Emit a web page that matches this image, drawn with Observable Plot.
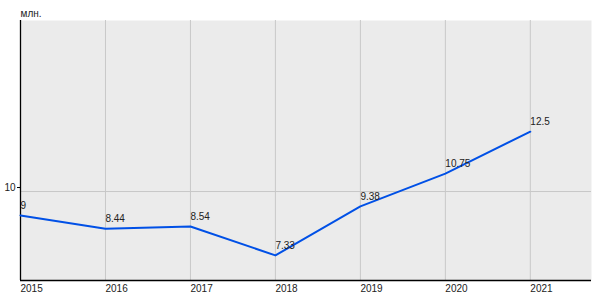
<!DOCTYPE html>
<html><head><meta charset="utf-8">
<script src="https://cdn.jsdelivr.net/npm/d3@7"></script>
<script src="https://cdn.jsdelivr.net/npm/@observablehq/plot@0.6"></script>
<style>body{margin:0;background:#fff;font-family:"Liberation Sans",Arial,sans-serif;}</style>
</head><body><div id="chart"></div>
<script>
const years = [2015, 2016, 2017, 2018, 2019, 2020, 2021];
const values = [9, 8.44, 8.54, 7.33, 9.38, 10.75, 12.5];
const labels = ["9", "8.44", "8.54", "7.33", "9.38", "10.75", "12.5"];
const yTicks = [10];
const unit = "млн.";
const data = years.map((y, i) => ({year: y, value: values[i], label: labels[i]}));

const chart = Plot.plot({
  width: 600, height: 300,
  marginLeft: 20, marginRight: 9, marginTop: 20, marginBottom: 20,
  style: {fontFamily: "Liberation Sans, Arial, sans-serif", fontSize: "10px", color: "#222"},
  x: {domain: [2015, 2021.72], label: null},
  y: {domain: [6.28, 17.15], label: null},
  marks: [
    Plot.frame({fill: "#ebebeb", stroke: null}),
    Plot.ruleX(years, {stroke: "#c8c8c8", strokeWidth: 1}),
    Plot.ruleY(yTicks, {stroke: "#c8c8c8", strokeWidth: 1}),
    Plot.axisX({ticks: years, tickFormat: d => String(d), tickSize: 0, tickPadding: 4, textAnchor: "start", fill: "#222"}),
    Plot.axisY({ticks: yTicks, tickFormat: d => String(d), tickSize: 3, tickPadding: 2, dy: -4, fill: "#222", stroke: "#000"}),
    Plot.ruleX([2015], {stroke: "#000", strokeWidth: 1.3}),
    Plot.ruleY([6.28], {stroke: "#000", strokeWidth: 1.3}),
    Plot.line(data, {x: "year", y: "value", stroke: "#0050e6", strokeWidth: 2}),
    Plot.text(data, {x: "year", y: "value", text: "label", textAnchor: "start", dy: -10, fill: "#222", fontSize: 10}),
    Plot.text([unit], {frameAnchor: "top-left", text: d => d, dy: -4, lineAnchor: "bottom", textAnchor: "start", fill: "#222", fontSize: 10})
  ]
});
document.getElementById("chart").appendChild(chart);
</script>
</body></html>
